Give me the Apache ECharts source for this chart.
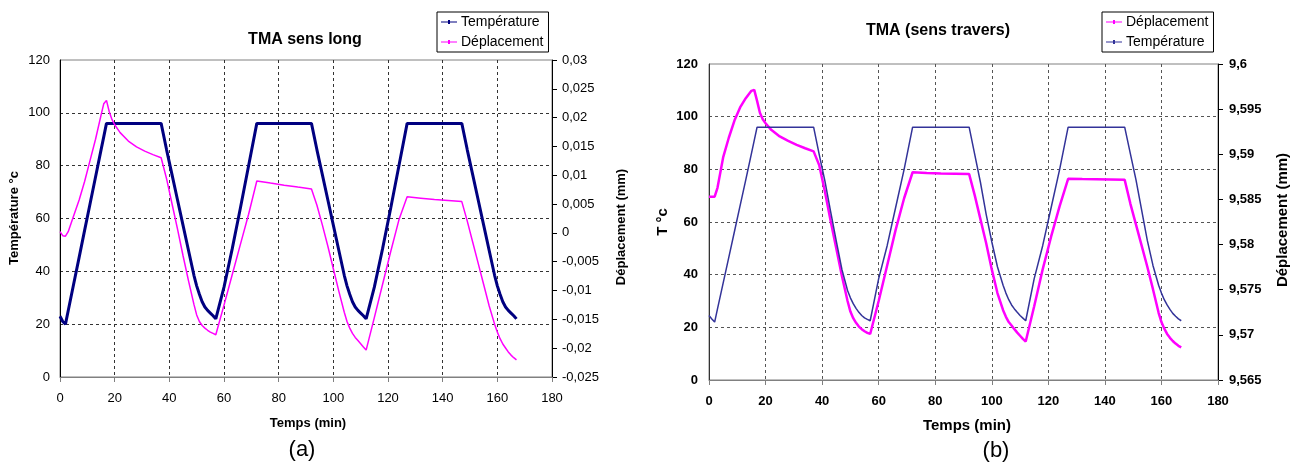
<!DOCTYPE html>
<html><head><meta charset="utf-8">
<script src="https://cdn.jsdelivr.net/npm/echarts@6.0.0/dist/echarts.min.js"></script>
<style>
html,body{margin:0;padding:0;background:#fff;}
#a{position:absolute;left:0;top:0;width:650px;height:464px;}
#b{position:absolute;left:650px;top:0;width:647px;height:464px;}
</style>
</head><body>
<div id="a"></div><div id="b"></div>
<script>
// Time (min), shared by all four series
const timeMin = [0,1,2,3,5,7,9,11,13,15,16,17,18,19,20,22,25,28,31,34,37,
  39,41,43,45,47,49,50,51,52,53,54,55,56,57,
  60,63,66,69,72,77,82,87,92,
  94,96,98,100,102,104,105,106,107,108,109,110,111,112,
  115,118,121,124,127,132,137,142,147,
  149,151,153,155,157,159,160,161,162,163,164,165,166,167];

// (a) TMA sens long - Température (°C)
const tempA = [23,21,20,25.1,35.2,45.3,55.5,65.6,75.7,85.9,90.9,96,96,96,96,96,96,96,96,96,96,
  86,76.5,67,57.5,48,38.5,34.5,31.3,28.5,26.5,25.2,24.2,23.2,22,
  34,48.5,64,80,96,96,96,96,96,
  86,76.5,67,57.5,48,38.5,34.5,31.3,28.5,26.5,25.2,24.2,23.2,22,
  34,48.5,64,80,96,96,96,96,96,
  86,76.5,67,57.5,48,38.5,34.5,31.3,28.5,26.5,25.2,24.2,23.2,22];

// (a) TMA sens long - Déplacement (mm)
const dispA = [0.00021,-0.00048,-0.00057,0.00021,0.00296,0.00571,0.00892,0.01258,0.01625,0.02038,0.02240,0.02300,0.02106,0.01969,0.01877,0.01740,0.01593,0.01492,0.01419,0.01359,0.01304,
  0.00938,0.00502,0.00067,-0.00392,-0.00827,-0.01240,-0.01423,-0.01538,-0.01606,-0.01652,-0.01689,-0.01721,-0.01744,-0.01767,
  -0.01253,-0.00726,-0.00199,0.00323,0.00901,0.00864,0.00828,0.00795,0.00763,
  0.00479,0.00135,-0.00231,-0.00621,-0.01010,-0.01377,-0.01538,-0.01652,-0.01744,-0.01813,-0.01868,-0.01923,-0.01978,-0.02033,
  -0.01469,-0.00896,-0.00323,0.00227,0.00626,0.00603,0.00580,0.00562,0.00543,
  0.00204,-0.00163,-0.00529,-0.00896,-0.01263,-0.01583,-0.01721,-0.01835,-0.01927,-0.01996,-0.02065,-0.02120,-0.02165,-0.02202];

// (b) TMA sens travers - Température (°C)
const tempB = [24.5,23.2,22,27,36.8,46.6,56.4,66.2,76,86,91,96,96,96,96,96,96,96,96,96,96,
  85.5,75.5,64,52.8,42,34,31.2,29,27.2,25.7,24.5,23.6,23,22.5,
  38.5,51,65.5,80,96,96,96,96,96,
  85.5,75,63,52.5,43,36,33,30.5,28.5,27,25.7,24.5,23.5,22.5,
  38.5,51,65.5,80,96,96,96,96,96,
  86,76,64.5,53,43.5,36,33,30.5,28.5,26.8,25.3,24.2,23.2,22.5];

// (b) TMA sens travers - Déplacement (mm)
const dispB = [9.58530,9.58530,9.58530,9.58629,9.58965,9.59183,9.59373,9.59519,9.59621,9.59703,9.59714,9.59592,9.59460,9.59388,9.59344,9.59271,9.59198,9.59148,9.59105,9.59067,9.59032,
  9.58877,9.58585,9.58265,9.57958,9.57652,9.57375,9.57258,9.57185,9.57133,9.57092,9.57063,9.57040,9.57022,9.57010,
  9.57375,9.57769,9.58163,9.58513,9.58801,9.58793,9.58787,9.58784,9.58781,
  9.58542,9.58279,9.58017,9.57725,9.57463,9.57273,9.57200,9.57142,9.57104,9.57063,9.57025,9.56990,9.56955,9.56926,
  9.57317,9.57725,9.58090,9.58425,9.58728,9.58725,9.58723,9.58720,9.58717,
  9.58454,9.58221,9.57988,9.57754,9.57506,9.57244,9.57142,9.57069,9.57010,9.56967,9.56932,9.56903,9.56879,9.56862];

// Tick labels
const xTicks = ['0','20','40','60','80','100','120','140','160','180'];
const tempTicks = ['0','20','40','60','80','100','120'];
const dispTicksA = ['-0,025','-0,02','-0,015','-0,01','-0,005','0','0,005','0,01','0,015','0,02','0,025','0,03'];
const dispTicksB = ['9,565','9,57','9,575','9,58','9,585','9,59','9,595','9,6'];

const FF = '"Liberation Sans", Arial, sans-serif';
const LEGEND_ICON = 'path://M0,2H16V3H0Z M7,0.5H9V4.5H7Z';
function pairs(vals){ return timeMin.map((t,i)=>[t, vals[i]]); }
function tickFmt(labels, min, step){
  return function(v){ const i = Math.round((v - min)/step); return labels[i] !== undefined ? labels[i] : ''; };
}
function txt(x, y, s, font, rot){
  return {type:'text', x:x, y:y, rotation: rot || 0, silent:true,
    style:{text:s, font:font, fill:'#000', align:'center', verticalAlign:'middle'}};
}

function buildOption(c){
  return {
    animation:false,
    backgroundColor:'#fff',
    grid:{left:c.grid[0], top:c.grid[1], width:c.grid[2], height:c.grid[3],
      show:true, borderColor:'#808080', borderWidth:1, backgroundColor:'transparent'},
    legend:{
      orient:'vertical', left:c.legendPos[0], top:c.legendPos[1],
      data:c.legendData, icon:LEGEND_ICON,
      borderColor:'#000', borderWidth:1, padding:[3,5,3,4], itemGap:6,
      itemWidth:16, itemHeight:5,
      textStyle:{fontSize:14, color:'#000', fontFamily:FF, padding:[0,0,0,-1]}
    },
    xAxis:{
      type:'value', min:0, max:180, interval:20,
      axisLine:{show:true, lineStyle:{color:'#808080', width:1}},
      axisTick:{show:true, length:5, lineStyle:{color:'#808080'}},
      axisLabel:{margin:c.xMargin, fontSize:13, fontWeight:c.bold?'bold':'normal', color:'#000', fontFamily:FF,
        formatter:tickFmt(xTicks, 0, 20)},
      splitLine:{show:true, showMinLine:false, showMaxLine:false,
        lineStyle:{type:[3,3], color:c.gridColor, width:1}}
    },
    yAxis:[{
      type:'value', position:'left', min:0, max:120, interval:20,
      axisLine:{show:true, lineStyle:{color:c.leftAxisColor, width:1}},
      axisTick:{show:false},
      axisLabel:{margin:c.yMargin, fontSize:13, fontWeight:c.bold?'bold':'normal', color:'#000', fontFamily:FF,
        formatter:tickFmt(tempTicks, 0, 20)},
      splitLine:{show:true, showMinLine:false, showMaxLine:false,
        lineStyle:{type:[3,3], color:c.gridColor, width:1}}
    },{
      type:'value', position:'right', min:c.dispMin, max:c.dispMax, interval:0.005,
      axisLine:{show:true, lineStyle:{color:'#000', width:1}},
      axisTick:{show:true, length:5, lineStyle:{color:'#000'}},
      axisLabel:{margin:c.y2Margin, fontSize:13, fontWeight:c.bold?'bold':'normal', color:'#000', fontFamily:FF,
        formatter:tickFmt(c.dispTicks, c.dispMin, 0.005)},
      splitLine:{show:false}
    }],
    series:c.series,
    graphic:c.graphic
  };
}

const chartA = echarts.init(document.getElementById('a'));
chartA.setOption(buildOption({
  grid:[60,60,492,317],
  legendPos:[437,12],
  legendData:['Température','Déplacement'],
  xMargin:15, yMargin:10, y2Margin:10, bold:false,
  gridColor:'#333', leftAxisColor:'#000',
  dispMin:-0.025, dispMax:0.03, dispTicks:dispTicksA,
  series:[
    {name:'Température', type:'line', yAxisIndex:0, data:pairs(tempA), symbol:'none', showSymbol:false,
      lineStyle:{color:'#000080', width:3}, itemStyle:{color:'#000080'}},
    {name:'Déplacement', type:'line', yAxisIndex:1, data:pairs(dispA), symbol:'none', showSymbol:false,
      lineStyle:{color:'#ff00ff', width:1.5}, itemStyle:{color:'#ff00ff'}}
  ],
  graphic:[
    txt(305, 40, 'TMA sens long', 'bold 16px '+FF),
    txt(308, 423, 'Temps (min)', 'bold 13px '+FF),
    txt(302, 450, '(a)', '22px '+FF),
    txt(14, 218, 'Température °c', 'bold 13px '+FF, Math.PI/2),
    txt(621, 227, 'Déplacement (mm)', 'bold 13px '+FF, Math.PI/2)
  ]
}));

const chartB = echarts.init(document.getElementById('b'));
chartB.setOption(buildOption({
  grid:[59,64,509,316],
  legendPos:[452,12],
  legendData:['Déplacement','Température'],
  xMargin:15, yMargin:11, y2Margin:11, bold:true,
  gridColor:'#555', leftAxisColor:'#333',
  dispMin:9.565, dispMax:9.6, dispTicks:dispTicksB,
  series:[
    {name:'Déplacement', type:'line', yAxisIndex:1, data:pairs(dispB), symbol:'none', showSymbol:false,
      lineStyle:{color:'#ff00ff', width:2.5}, itemStyle:{color:'#ff00ff'}},
    {name:'Température', type:'line', yAxisIndex:0, data:pairs(tempB), symbol:'none', showSymbol:false,
      lineStyle:{color:'#333399', width:1.5}, itemStyle:{color:'#333399'}}
  ],
  graphic:[
    txt(288, 31, 'TMA (sens travers)', 'bold 16px '+FF),
    txt(317, 426, 'Temps (min)', 'bold 15px '+FF),
    txt(346, 451, '(b)', '22px '+FF),
    txt(13, 222, 'T °c', 'bold 15px '+FF, Math.PI/2),
    txt(633, 220, 'Déplacement (mm)', 'bold 15px '+FF, Math.PI/2)
  ]
}));
</script>
</body></html>
